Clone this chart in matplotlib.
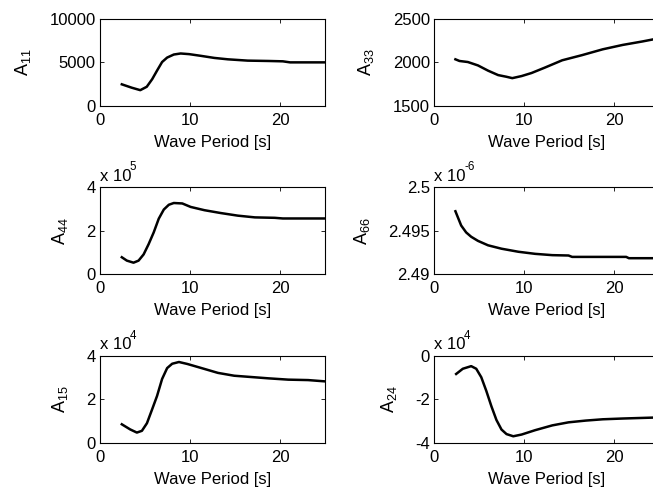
import matplotlib
matplotlib.use("Agg")
import matplotlib.pyplot as plt

plt.rcParams["font.family"] = ["Liberation Sans", "DejaVu Sans"]
plt.rcParams["mathtext.fontset"] = "custom"
plt.rcParams["mathtext.rm"] = "Liberation Sans"
plt.rcParams["mathtext.it"] = "Liberation Sans"

# wave period samples (s) and values
t11 = [2.43, 3.54, 4.48, 5.2, 5.8, 6.34, 6.9, 7.46, 8.2, 8.96, 9.9, 11.2, 12.7,
       14.2, 16.4, 18.7, 20.3, 21.1, 25]
a11 = [2480, 2090, 1810, 2200, 3070, 4055, 5040, 5550, 5900, 6020, 5945, 5750,
       5510, 5350, 5200, 5160, 5120, 5000, 5000]

t33 = [2.35, 2.8, 3.73, 4.85, 5.97, 7.09, 8.0, 8.66, 9.7, 10.8, 12.3, 14.2, 16.4,
       18.7, 20.9, 23.1, 24.5, 25]
a33 = [2035, 2016, 2004, 1965, 1905, 1854, 1835, 1819, 1843, 1878, 1941, 2024,
       2083, 2150, 2200, 2240, 2268, 2275]

t44 = [2.43, 2.99, 3.73, 4.29, 4.85, 5.4, 5.97, 6.53, 7.09, 7.65, 8.2, 9.14, 10.07,
       11.6, 13.4, 15.3, 17.2, 19.4, 20.3, 25]
a44 = [0.78, 0.625, 0.53, 0.625, 0.91, 1.375, 1.92, 2.55, 2.97, 3.19, 3.27, 3.25,
       3.09, 2.94, 2.81, 2.69, 2.61, 2.59, 2.56, 2.56]

t66 = [2.35, 2.61, 2.99, 3.54, 4.1, 4.85, 5.97, 7.46, 9.33, 11.2, 13.1, 14.9, 15.3,
       21.3, 21.6, 25]
a66 = [2.49723, 2.49656, 2.49559, 2.49480, 2.49430, 2.49383, 2.49332, 2.49293,
       2.49258, 2.49234, 2.49219, 2.49215, 2.49199, 2.49199, 2.49184, 2.49184]

t15 = [2.43, 3.36, 4.1, 4.66, 5.22, 5.78, 6.34, 6.9, 7.46, 8.02, 8.77, 9.7, 11.2,
       13.1, 14.9, 16.8, 18.7, 20.9, 23.1, 25]
a15 = [0.86, 0.625, 0.48, 0.56, 0.91, 1.53, 2.16, 2.94, 3.44, 3.64, 3.72, 3.63,
       3.45, 3.22, 3.09, 3.03, 2.97, 2.91, 2.89, 2.83]

t24 = [2.43, 3.17, 4.1, 4.66, 5.22, 5.78, 6.34, 6.9, 7.46, 8.02, 8.77, 9.7, 11.2,
       13.1, 14.9, 16.8, 18.7, 20.9, 24.5, 25]
a24 = [-0.83, -0.59, -0.47, -0.59, -0.98, -1.61, -2.31, -2.94, -3.38, -3.59, -3.69,
       -3.61, -3.41, -3.19, -3.05, -2.97, -2.91, -2.875, -2.83, -2.83]

panels = [
    (t11, a11, "11", (0, 10000), [0, 5000, 10000], ["0", "5000", "10000"], None),
    (t33, a33, "33", (1500, 2500), [1500, 2000, 2500], ["1500", "2000", "2500"], None),
    (t44, a44, "44", (0, 4), [0, 2, 4], ["0", "2", "4"], "5"),
    (t66, a66, "66", (2.49, 2.5), [2.49, 2.495, 2.5], ["2.49", "2.495", "2.5"], "-6"),
    (t15, a15, "15", (0, 4), [0, 2, 4], ["0", "2", "4"], "4"),
    (t24, a24, "24", (-4, 0), [-4, -2, 0], ["-4", "-2", "0"], "4"),
]

fs = 12
fig = plt.figure(figsize=(6.53, 4.95), dpi=100)
lefts = [0.153, 0.665]
bottoms = [0.786, 0.446, 0.105]
w, h = 0.345, 0.176

for i, (t, a, sub, ylim, yt, ytl, expo) in enumerate(panels):
    ax = fig.add_axes([lefts[i % 2], bottoms[i // 2], w, h])
    ax.plot(t, a, color="black", linewidth=1.8)
    ax.set_xlim(0, 25)
    ax.set_ylim(*ylim)
    ax.set_xticks([0, 10, 20])
    ax.set_yticks(yt)
    ax.set_yticklabels(ytl)
    ax.tick_params(direction="in", top=True, right=True, labelsize=fs,
                   length=3, width=0.6)
    ax.tick_params(axis="x", pad=5)
    ax.tick_params(axis="y", pad=3)
    for s in ax.spines.values():
        s.set_linewidth(0.8)
    ax.set_xlabel("Wave Period [s]", fontsize=fs, labelpad=5)
    ax.set_ylabel("A$_{" + sub + "}$", fontsize=fs + 1, labelpad=12)
    if expo is not None:
        ax.text(0.0, 1.04, "x 10", transform=ax.transAxes,
                fontsize=fs, ha="left", va="bottom")
        ax.text(0.133, 1.16, expo, transform=ax.transAxes,
                fontsize=fs * 0.7, ha="left", va="bottom")

fig.savefig("out.png", dpi=100)
